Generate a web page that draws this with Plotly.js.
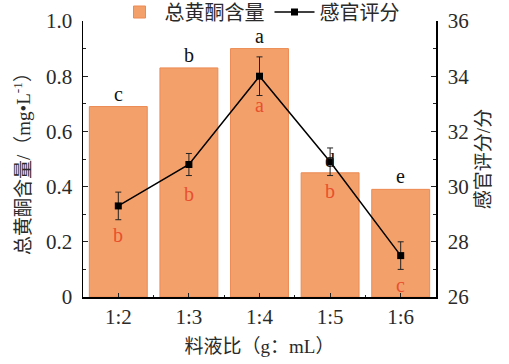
<!DOCTYPE html>
<html><head><meta charset="utf-8">
<script src="https://cdn.plot.ly/plotly-3.0.1.min.js"></script>
<style>html,body{margin:0;padding:0;background:#fff;}#c{width:509px;height:364px;}</style>
</head><body><div id="c"></div>
<script>
const categories = ['1:2','1:3','1:4','1:5','1:6'];
const flavonoid = [0.69, 0.83, 0.90, 0.45, 0.39];
const flavonoidLetters = ['c','b','a','d','e'];
const sensory = [29.3, 30.8, 34.0, 30.9, 27.5];
const sensoryErr = [0.5, 0.4, 0.7, 0.5, 0.5];
const sensoryLetters = ['b','b','a','b','c'];
const leftTickVals = [0, 0.2, 0.4, 0.6, 0.8, 1.0];
const leftTickText = ['0', '0.2', '0.4', '0.6', '0.8', '1.0'];
const barName = '总黄酮含量';
const lineName = '感官评分';

const FONT = 'Liberation Serif, Noto Sans CJK SC, serif';
const TXT = '#2a2a2a';

const traces = [
  {type:'bar', x:categories, y:flavonoid, name:barName, width:0.82,
   marker:{color:'#F4A06B', line:{color:'#EC8A52', width:1}}},
  {type:'scatter', mode:'lines+markers', x:categories, y:sensory, name:lineName, yaxis:'y2',
   line:{color:'#000', width:1.5}, marker:{symbol:'square', size:7, color:'#000'},
   error_y:{type:'data', array:sensoryErr, visible:true, color:'#222', thickness:1, width:3}},
  {type:'scatter', x:categories, y:flavonoid, xaxis:'x2', showlegend:false, hoverinfo:'skip',
   mode:'markers', marker:{opacity:0}}
];

const annotations = [];
categories.forEach((c,i)=>{
  annotations.push({x:c, y:flavonoid[i], xref:'x', yref:'y', text:flavonoidLetters[i],
    showarrow:false, yanchor:'bottom', yshift:0, font:{family:FONT, size:20, color:'#111'}});
  annotations.push({x:c, y:sensory[i], xref:'x', yref:'y2', text:sensoryLetters[i],
    showarrow:false, yanchor:'middle', yshift:-29, font:{family:FONT, size:20, color:'#E8502D'}});
});

const layout = {
  width:509, height:364,
  margin:{l:83, r:73, t:21, b:67, autoexpand:false},
  paper_bgcolor:'#fff', plot_bgcolor:'#fff',
  font:{family:FONT, size:20, color:TXT},
  showlegend:true,
  legend:{orientation:'h', x:0.5, xanchor:'center', y:0.967, yref:'container', yanchor:'middle',
    font:{family:FONT, size:20, color:TXT}, bgcolor:'rgba(0,0,0,0)', itemwidth:40, tracegroupgap:0},
  xaxis:{type:'category', categoryorder:'array', categoryarray:categories, range:[-0.5,4.5],
    showline:true, linecolor:'#000', linewidth:1.5, ticks:'inside', ticklen:4, tickcolor:'#222',
    ticklabelstandoff:0,
    tickfont:{family:FONT, size:21, color:TXT}, zeroline:false, showgrid:false,
    title:{text:'料液比（g：mL）', font:{family:FONT, size:19, color:TXT}, standoff:12}},
  xaxis2:{type:'category', categoryorder:'array', categoryarray:categories, range:[-0.5,4.5],
    overlaying:'x', anchor:'y', tickson:'boundaries', ticks:'inside', ticklen:2, tickcolor:'#222',
    showticklabels:false, showline:false, showgrid:false, zeroline:false},
  yaxis:{range:[0,1.0], tickmode:'array', tickvals:leftTickVals, ticktext:leftTickText,
    showline:true, linecolor:'#000', linewidth:1.5, ticklabelstandoff:5,
    ticks:'inside', ticklen:5, tickcolor:'#222', showgrid:false, zeroline:false,
    tickfont:{family:FONT, size:21, color:TXT},
    minor:{tickmode:'linear', tick0:0, dtick:0.1, ticks:'inside', ticklen:3, tickcolor:'#222'},
    title:{text:'总黄酮含量/（mg•L<sup>-1</sup>）', font:{family:FONT, size:19, color:TXT}, standoff:10}},
  yaxis2:{range:[26,36], dtick:2, overlaying:'y', side:'right', showline:true, linecolor:'#000', linewidth:1.5,
    ticks:'inside', ticklen:5, tickcolor:'#222', showgrid:false, zeroline:false, ticklabelstandoff:6,
    tickfont:{family:FONT, size:21, color:TXT},
    minor:{dtick:1, ticks:'inside', ticklen:3, tickcolor:'#222'},
    title:{text:'感官评分/分', font:{family:FONT, size:19, color:TXT}, standoff:8}},
  annotations:annotations
};

Plotly.newPlot('c', traces, layout, {displayModeBar:false, staticPlot:true});
</script></body></html>
